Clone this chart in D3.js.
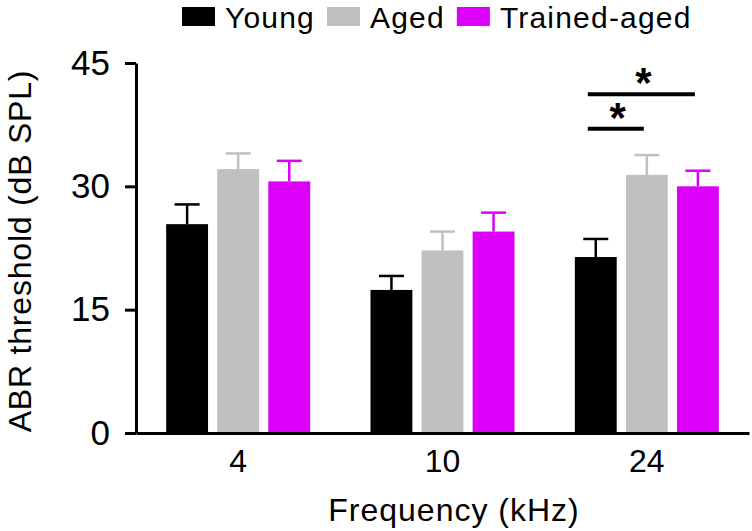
<!DOCTYPE html>
<html>
<head>
<meta charset="utf-8">
<script src="https://cdn.jsdelivr.net/npm/d3@7"></script>
<style>
  body { margin: 0; background: #fff; }
  text { font-family: "Liberation Sans", Arial, sans-serif; fill: #000; }
</style>
</head>
<body>
<svg id="chart" width="752" height="531"></svg>
<script>
// chart data
var frequencies = ["4", "10", "24"];
var groups = ["Young", "Aged", "Trained-aged"];
var colors = ["#000000", "#c0c0c0", "#dc00fa"];
var means = {
    "Young":        [25.4, 17.4, 21.4],
    "Aged":         [32.1, 22.2, 31.4],
    "Trained-aged": [30.6, 24.5, 30.0]
};
var sems = {
    "Young":        [2.4, 1.7, 2.2],
    "Aged":         [1.9, 2.3, 2.4],
    "Trained-aged": [2.5, 2.3, 1.9]
};
var yTicks = [0, 15, 30, 45];
// significance brackets at 24 kHz: [from group, to group, level (dB)]
var signif = [["Young", "Trained-aged", 41.2], ["Young", "Aged", 37.0]];

var svg = d3.select("#chart");
var margin = {top: 63, left: 136, bottom: 98, right: 3};
var width = 752, height = 531;
var h0 = height - margin.bottom;

var x0 = d3.scaleBand()
    .domain(frequencies)
    .range([margin.left, width - margin.right])
    .padding(0);

var x1 = d3.scaleBand()
    .domain(groups)
    .range([-72, 72])
    .paddingInner(0.18);

var y = d3.scaleLinear()
    .domain([0, 45])
    .range([h0, margin.top]);

function cx(f, g) {
    return x0(f) + x0.bandwidth() / 2 + x1(g) + x1.bandwidth() / 2;
}

// bars + error bars
groups.forEach(function(g, gi) {
    var rows = frequencies.map(function(f, i) {
        return {f: f, m: means[g][i], s: sems[g][i]};
    });
    var grp = svg.append("g");
    grp.selectAll("rect").data(rows).enter().append("rect")
        .attr("x", function(d) { return x0(d.f) + x0.bandwidth() / 2 + x1(g); })
        .attr("width", x1.bandwidth())
        .attr("y", function(d) { return y(d.m); })
        .attr("height", function(d) { return y(0) - y(d.m); })
        .attr("fill", colors[gi]);
    grp.selectAll("line.err").data(rows).enter().append("line")
        .attr("class", "err")
        .attr("x1", function(d) { return cx(d.f, g); })
        .attr("x2", function(d) { return cx(d.f, g); })
        .attr("y1", function(d) { return y(d.m); })
        .attr("y2", function(d) { return y(d.m + d.s); })
        .attr("stroke", colors[gi])
        .attr("stroke-width", 2.5);
    grp.selectAll("line.cap").data(rows).enter().append("line")
        .attr("class", "cap")
        .attr("x1", function(d) { return cx(d.f, g) - 12.5; })
        .attr("x2", function(d) { return cx(d.f, g) + 12.5; })
        .attr("y1", function(d) { return y(d.m + d.s); })
        .attr("y2", function(d) { return y(d.m + d.s); })
        .attr("stroke", colors[gi])
        .attr("stroke-width", 2.5);
});

// y axis
var yAxis = d3.axisLeft(y)
    .tickValues(yTicks)
    .tickSize(11)
    .tickSizeOuter(0)
    .tickPadding(15);

var ya = svg.append("g")
    .attr("transform", "translate(" + margin.left + ",0)")
    .call(yAxis);
ya.select(".domain").attr("stroke-width", 3);
ya.selectAll(".tick line").attr("stroke-width", 3);
ya.selectAll(".tick text")
    .style("font-size", "35px")
    .attr("font-family", null);

// x axis
var xAxis = d3.axisBottom(x0)
    .tickSize(0)
    .tickSizeOuter(0)
    .tickPadding(16);

var xa = svg.append("g")
    .attr("transform", "translate(0," + h0 + ")")
    .call(xAxis);
xa.select(".domain").attr("stroke-width", 3);
xa.selectAll(".tick text")
    .style("font-size", "32px")
    .attr("font-family", null)
    .attr("dy", "0.71em");

// axis titles
svg.append("text")
    .attr("x", 454)
    .attr("y", 521)
    .attr("text-anchor", "middle")
    .style("font-size", "32px")
    .style("letter-spacing", "1px")
    .text("Frequency (kHz)");

svg.append("text")
    .attr("transform", "translate(31," + 251 + ") rotate(-90)")
    .attr("text-anchor", "middle")
    .style("font-size", "32px")
    .style("letter-spacing", "0.8px")
    .text("ABR threshold (dB SPL)");

// significance
signif.forEach(function(s) {
    var xa1 = cx("24", s[0]) - 8;
    var xa2 = cx("24", s[1]) - 3;
    svg.append("line")
        .attr("x1", xa1).attr("x2", xa2)
        .attr("y1", y(s[2])).attr("y2", y(s[2]))
        .attr("stroke", "#000")
        .attr("stroke-width", 4);
    svg.append("text")
        .attr("x", (xa1 + xa2) / 2 + 2)
        .attr("y", y(s[2]) + 3)
        .attr("text-anchor", "middle")
        .style("font-size", "42px")
        .style("font-weight", "bold")
        .text("*");
});

// legend
var lx = 182;
groups.forEach(function(g, i) {
    svg.append("rect")
        .attr("x", lx).attr("y", 7)
        .attr("width", 33).attr("height", 19)
        .attr("fill", colors[i]);
    var t = svg.append("text")
        .attr("x", lx + 43)
        .attr("y", 28)
        .style("font-size", "30px")
        .style("letter-spacing", "1.2px")
        .text(g);
    lx = lx + 43 + t.node().getComputedTextLength() + 12;
});
</script>
</body>
</html>
